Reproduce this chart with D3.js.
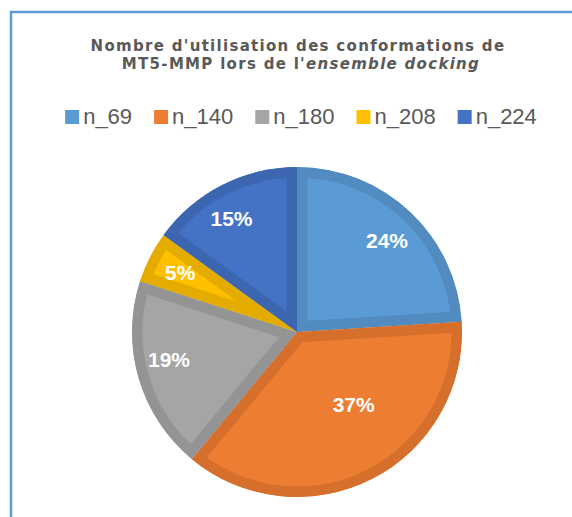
<!DOCTYPE html>
<html>
<head>
<meta charset="utf-8">
<script src="https://cdn.jsdelivr.net/npm/d3@7"></script>
<style>
  html, body { margin: 0; padding: 0; background: #ffffff; }
  svg { display: block; }
</style>
</head>
<body>
<svg id="chart" width="572" height="517"></svg>
<script>
// Conformations of MT5-MMP used during ensemble docking (percent of runs)
const categories = ["n_69", "n_140", "n_180", "n_208", "n_224"];
const values = [24, 37, 19, 5, 15];
const fillColors = ["#5b9bd5", "#ed7d31", "#a5a5a5", "#ffc000", "#4472c4"];
const edgeColors = ["#518bc0", "#d56f2b", "#949494", "#e5ac00", "#3d66b0"];

const W = 572, H = 517;
const svg = d3.select("#chart");

// Chart area frame (only left and top edges fall inside the view)
svg.append("rect")
  .attr("x", 11).attr("y", 12)
  .attr("width", W + 20).attr("height", H + 20)
  .attr("fill", "#ffffff")
  .attr("stroke", "#5b9bd5")
  .attr("stroke-width", 2.5);

// Title
const title = svg.append("text")
  .attr("text-anchor", "middle")
  .attr("font-family", "'DejaVu Sans', Verdana, sans-serif")
  .attr("font-weight", "bold")
  .attr("font-size", 15)
  .attr("letter-spacing", 1.3)
  .attr("fill", "#595959");
title.append("tspan").attr("x", 298).attr("y", 51)
  .text("Nombre d'utilisation des conformations de");
const t2 = title.append("tspan").attr("x", 301).attr("y", 69);
t2.append("tspan").text("MT5-MMP lors de l'");
t2.append("tspan").attr("font-style", "italic").text("ensemble docking");

// Legend
const legend = svg.append("g").attr("font-family", "'Liberation Sans', Arial, sans-serif")
  .attr("font-size", 22).attr("fill", "#595959");
let lx = 0;
categories.forEach((c, i) => {
  const g = legend.append("g").attr("transform", `translate(${lx},0)`);
  g.append("rect").attr("x", 0).attr("y", -14).attr("width", 14).attr("height", 14)
    .attr("fill", fillColors[i]);
  const t = g.append("text").attr("x", 18).attr("y", 0).text(c);
  const w = 18 + t.node().getComputedTextLength();
  lx += w + 22;
});
const legendWidth = lx - 22;
legend.attr("transform", `translate(${301 - legendWidth / 2},124)`);

// Pie
const cx = 297, cy = 332, R = 165;
const pie = d3.pie().sort(null).value(d => d)(values);
const arc = d3.arc().innerRadius(0).outerRadius(R);
const defs = svg.append("defs");
const pieG = svg.append("g").attr("transform", `translate(${cx},${cy})`);

pie.forEach((p, i) => {
  const id = "clip-" + i;
  // clip lives in the slice's own (already translated) coordinate space
  defs.append("clipPath").attr("id", id)
    .append("path").attr("d", arc(p));
  // slice with a border drawn on its inside edge
  pieG.append("path")
    .attr("clip-path", `url(#${id})`)
    .attr("d", arc(p))
    .attr("fill", fillColors[i])
    .attr("stroke", edgeColors[i])
    .attr("stroke-width", 21)
    .attr("stroke-linejoin", "miter");
});

// Data labels
const labelRadius = [128, 92, 131, 131, 131];
const labelShift = [1.5, -11, 4, 0, -3]; // degrees, best-fit nudges
const labels = svg.append("g").attr("transform", `translate(${cx},${cy})`);
pie.forEach((p, i) => {
  const a = (p.startAngle + p.endAngle) / 2 + labelShift[i] * Math.PI / 180;
  const r = labelRadius[i];
  labels.append("text")
    .attr("x", r * Math.sin(a))
    .attr("y", -r * Math.cos(a))
    .attr("dy", "0.35em")
    .attr("text-anchor", "middle")
    .attr("font-family", "'Liberation Sans', Arial, sans-serif")
    .attr("font-weight", "bold")
    .attr("font-size", 21)
    .attr("fill", "#ffffff")
    .text(values[i] + "%");
});
</script>
</body>
</html>
